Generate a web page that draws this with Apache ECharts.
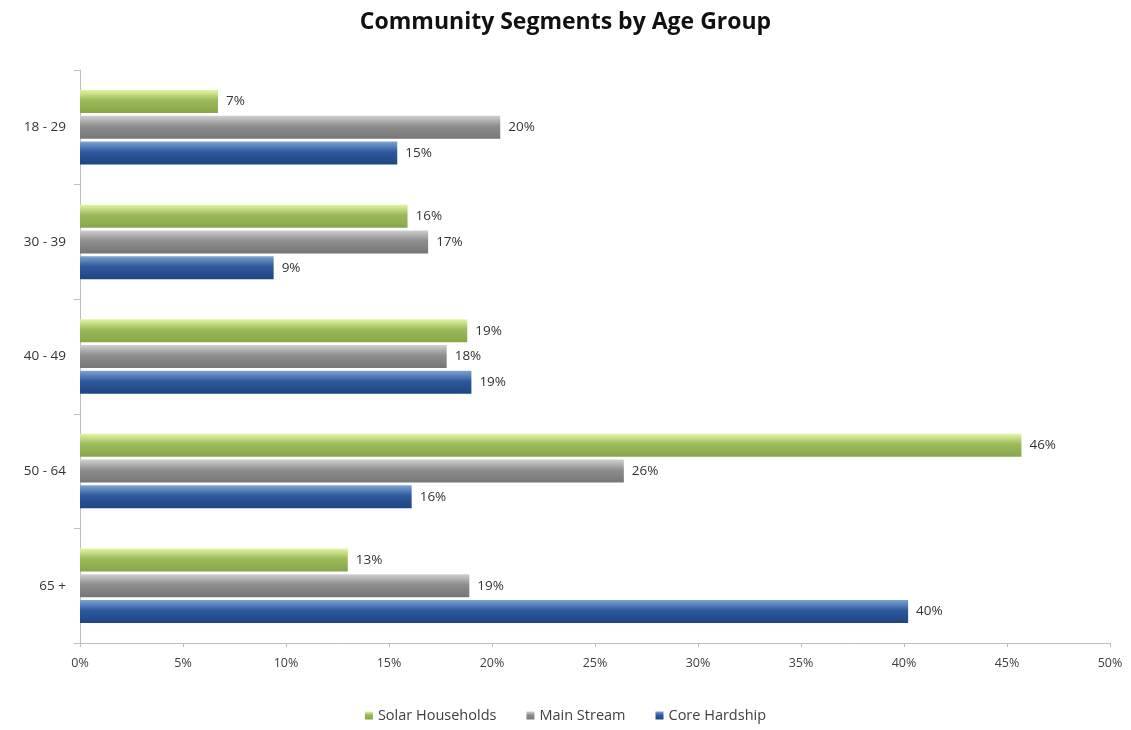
<!DOCTYPE html>
<html>
<head>
<meta charset="utf-8">
<script src="https://cdn.jsdelivr.net/npm/echarts@6/dist/echarts.min.js"></script>
<style>
  html, body { margin: 0; padding: 0; background: #fff; }
  #chart { width: 1131px; height: 730px; }
</style>
</head>
<body>
<div id="chart"></div>
<script>
const ageGroups = ["18 - 29", "30 - 39", "40 - 49", "50 - 64", "65 +"];
const solarHouseholds = [6.7, 15.9, 18.8, 45.7, 13.0];
const mainStream = [20.4, 16.9, 17.8, 26.4, 18.9];
const coreHardship = [15.4, 9.4, 19.0, 16.1, 40.2];
const xTicks = [0, 5, 10, 15, 20, 25, 30, 35, 40, 45, 50];

const font = "'Open Sans', 'Noto Sans', sans-serif";

function grad(top, mid, bottom) {
  return new echarts.graphic.LinearGradient(0, 0, 0, 1, [
    { offset: 0, color: top },
    { offset: 0.45, color: mid },
    { offset: 1, color: bottom },
  ]);
}

function barSeries(name, data, fill) {
  return {
    name,
    type: "bar",
    data,
    barWidth: 23,
    barGap: "12%",
    itemStyle: { color: fill },
    label: {
      show: true,
      position: "right",
      distance: 8,
      color: "#333",
      fontSize: 13.5,
      fontFamily: font,
      formatter: (p) => Math.round(p.value) + "%",
    },
  };
}

const chart = echarts.init(document.getElementById("chart"));
chart.setOption({
  backgroundColor: "#fff",
  animation: false,
  title: {
    text: "Community Segments by Age Group",
    left: "center",
    top: 6,
    textStyle: { fontFamily: font, fontSize: 23, fontWeight: "bold", color: "#111" },
  },
  color: ["#9bbb59", "#8c8c8c", "#2d5a9c"],
  legend: {
    bottom: 2,
    left: "center",
    itemWidth: 8,
    itemHeight: 8,
    itemGap: 30,
    icon: "rect",
    textStyle: { fontFamily: font, fontSize: 14.5, color: "#404040" },
  },
  grid: { left: 80, right: 21, top: 70, bottom: 87 },
  xAxis: {
    type: "value",
    min: xTicks[0],
    max: xTicks[xTicks.length - 1],
    interval: 5,
    axisLine: { show: true, lineStyle: { color: "#bfbfbf" } },
    axisTick: { show: true, length: 4, lineStyle: { color: "#bfbfbf" } },
    splitLine: { show: false },
    axisLabel: { fontFamily: font, fontSize: 12.5, color: "#404040", margin: 14, formatter: (v) => v + "%" },
  },
  yAxis: {
    type: "category",
    data: ageGroups,
    inverse: true,
    axisLine: { show: true, lineStyle: { color: "#bfbfbf" } },
    axisTick: { show: true, length: 6, lineStyle: { color: "#bfbfbf" } },
    axisLabel: { fontFamily: font, fontSize: 13.5, color: "#333", margin: 14 },
  },
  series: [
    barSeries("Solar Households", solarHouseholds, grad("#e2f5a6", "#9bbb59", "#88a64a")),
    barSeries("Main Stream", mainStream, grad("#d0d0d0", "#8e8e8e", "#767676")),
    barSeries("Core Hardship", coreHardship, grad("#7fa3d3", "#2d5a9c", "#1f4482")),
  ],
});
</script>
</body>
</html>
